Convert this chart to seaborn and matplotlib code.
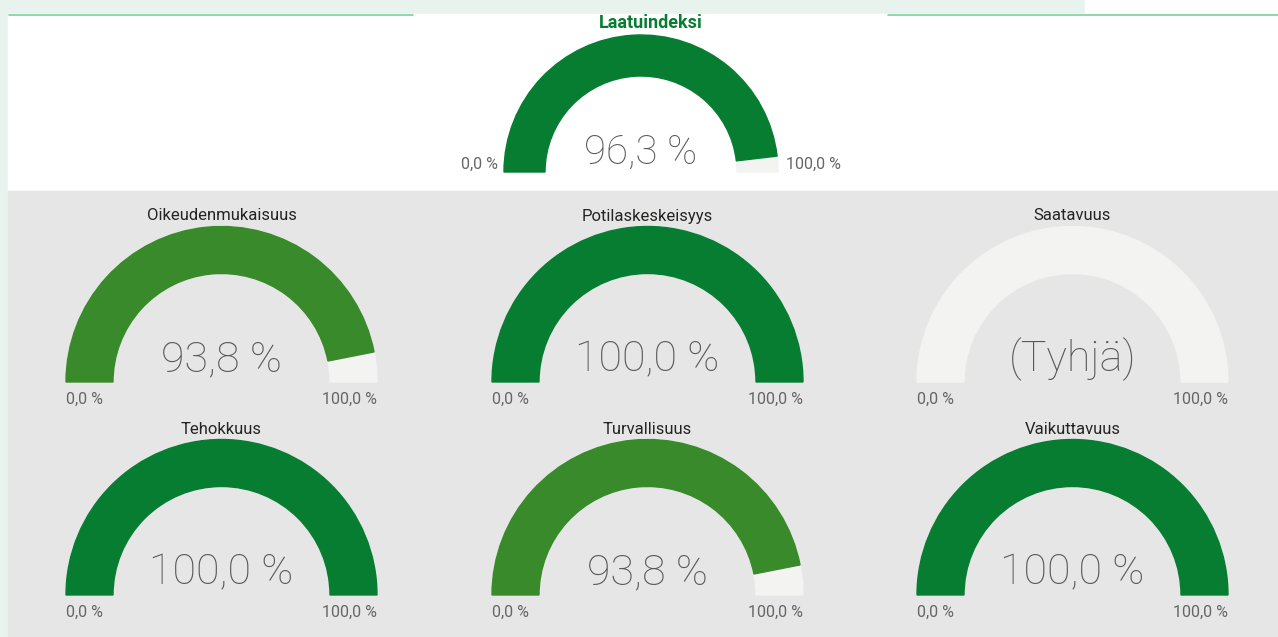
import numpy as np
import seaborn as sns
import matplotlib.pyplot as plt
from matplotlib.patches import Wedge, Rectangle

## Data
titles = ["Laatuindeksi", "Oikeudenmukaisuus", "Potilaskeskeisyys", "Saatavuus",
          "Tehokkuus", "Turvallisuus", "Vaikuttavuus"]
values = [96.3, 93.8, 100.0, None, 100.0, 93.8, 100.0]
gauge_min = 0.0
gauge_max = 100.0
empty_text = "(Tyhjä)"

DARK = "#077d32"
LIGHT = "#388a2a"
TRACK = "#f3f3f2"


def fmt(v):
    return f"{v:.1f} %".replace(".", ",")


sns.set_theme(style="white")
plt.rcParams['font.family'] = ['Roboto', 'DejaVu Sans']

fig = plt.figure(figsize=(12.78, 6.37), dpi=100)
ax = fig.add_axes([0, 0, 1, 1])
ax.set_xlim(0, 1278)
ax.set_ylim(637, 0)
ax.axis("off")

# backgrounds
ax.add_patch(Rectangle((0, 0), 1278, 637, color="#e8f3ee", zorder=0))
ax.add_patch(Rectangle((1085, 0), 193, 14, color="white", zorder=0))
ax.add_patch(Rectangle((8, 14), 1270, 177, color="white", zorder=0))
ax.add_patch(Rectangle((8, 191), 1270, 446, color="#e6e6e6", zorder=0))
ax.plot([9, 413], [14.5, 14.5], color="#7fcf9f", lw=1.2, zorder=1)
ax.plot([888, 1278], [14.5, 14.5], color="#7fcf9f", lw=1.2, zorder=1)


def gauge(cx, cy, r_out, width, value, title, big, title_kw, title_dx=0, val_dy=11):
    # track
    ax.add_patch(Wedge((cx, cy), r_out, 180, 360, width=width, color=TRACK, zorder=2))
    if value is not None:
        frac = (value - gauge_min) / (gauge_max - gauge_min)
        col = DARK if value >= 95 else LIGHT
        # y axis is inverted, so angles run 180 -> 180 + 180*frac
        ax.add_patch(Wedge((cx, cy), r_out, 180, 180 + 180 * frac,
                           width=width, color=col, zorder=3))
        txt = fmt(value)
    else:
        txt = empty_text
    ax.text(cx, cy - val_dy, txt, ha="center", va="baseline", fontsize=big,
            color="#5a5857", fontweight="light", zorder=4)
    ax.text(cx + title_dx, cy - r_out - 3, title,
            ha="center", va="bottom", zorder=4, **title_kw)


# top gauge
tx, ty = 641, 172
gauge(tx, ty, 137, 41, values[0], titles[0], 29,
      dict(fontsize=13, fontweight="bold", color=DARK), title_dx=10, val_dy=8)
ax.text(tx - 137 - 6, ty, fmt(gauge_min), ha="right", va="bottom",
        fontsize=11.5, color="#666666", zorder=4)
ax.text(tx + 137 + 8, ty, fmt(gauge_max), ha="left", va="bottom",
        fontsize=11.5, color="#666666", zorder=4)

# grid of six
centers_x = [221.5, 647.5, 1072.5]
centers_y = [382, 595]
R = 155.5
W = 47
for i in range(6):
    cx = centers_x[i % 3]
    cy = centers_y[i // 3]
    gauge(cx, cy, R, W, values[i + 1], titles[i + 1], 31,
          dict(fontsize=12, color="#252423"))
    ax.text(cx - R, cy + 10, fmt(gauge_min), ha="left", va="top",
            fontsize=11.5, color="#666666", zorder=4)
    ax.text(cx + R, cy + 10, fmt(gauge_max), ha="right", va="top",
            fontsize=11.5, color="#666666", zorder=4)

fig.savefig("out.png", dpi=100)
